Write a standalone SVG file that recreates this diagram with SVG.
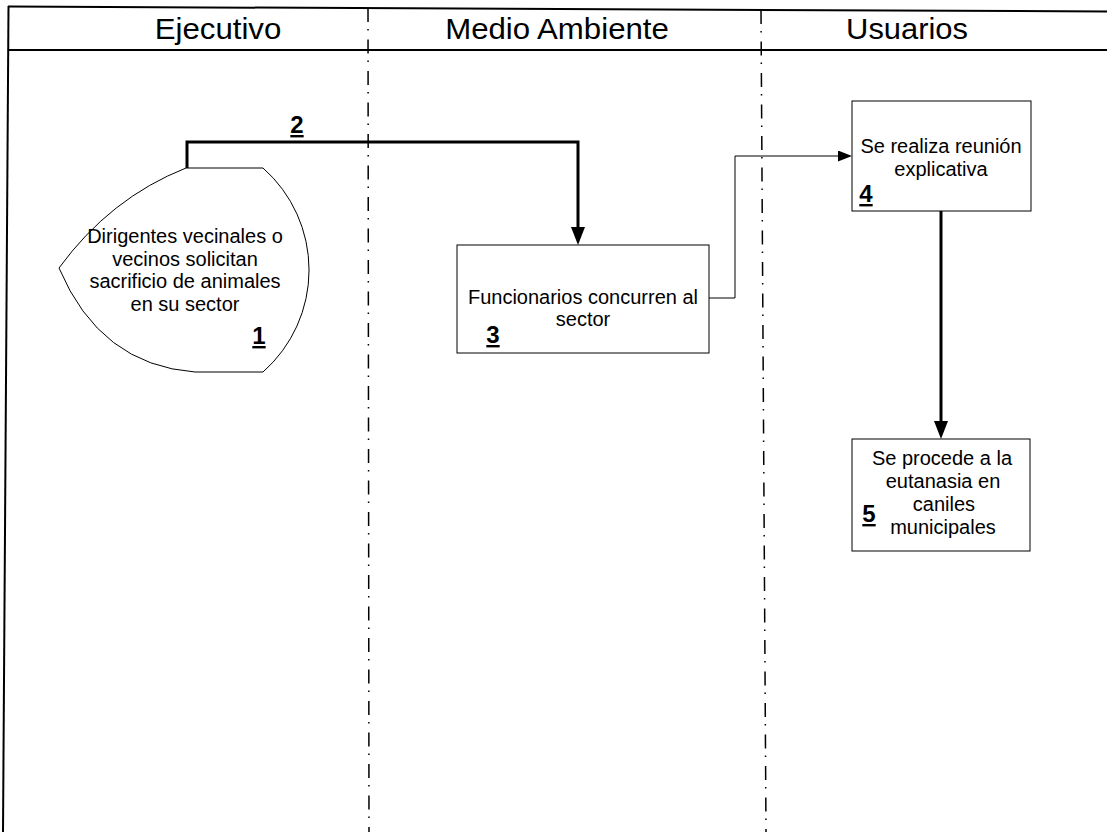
<svg xmlns="http://www.w3.org/2000/svg" width="1107" height="832" viewBox="0 0 1107 832">
  <style>
    text { font-family: "Liberation Sans", Arial, sans-serif; fill: #000; text-anchor: middle; }
    .hd { font-size: 30px; }
    .tx { font-size: 20px; }
    .num { font-size: 24px; font-weight: bold; text-decoration: underline; }
    .frame { stroke: #000; stroke-width: 2; fill: none; }
    .lane { stroke: #000; stroke-width: 1.5; fill: none; stroke-dasharray: 14 7 1.5 9; }
    .box { fill: #fff; stroke: #000; stroke-width: 1; }
    .thick { fill: none; stroke: #000; stroke-width: 3; }
    .thin { fill: none; stroke: #000; stroke-width: 1; }
  </style>
  <defs>
    <marker id="headBig" markerUnits="userSpaceOnUse" markerWidth="18" markerHeight="14" refX="0" refY="7" orient="auto">
      <path d="M0,0 L18,7 L0,14 z" fill="#000"/>
    </marker>
    <marker id="headSmall" markerUnits="userSpaceOnUse" markerWidth="14" markerHeight="11" refX="0" refY="5.5" orient="auto">
      <path d="M0,0 L14,5.5 L0,11 z" fill="#000"/>
    </marker>
  </defs>

  <rect x="0" y="0" width="1107" height="832" fill="#fff"/>

  <!-- swimlane frame and lane separators -->
  <g id="lanes">
    <line class="frame" x1="8" y1="6.5" x2="1107" y2="11.5"/>
    <line class="frame" x1="8" y1="50" x2="1107" y2="50"/>
    <line class="frame" x1="8.5" y1="6" x2="3" y2="832"/>
    <line class="lane" x1="368" y1="8" x2="369" y2="832"/>
    <line class="lane" x1="761" y1="10" x2="766" y2="832"/>
    <text class="hd" transform="matrix(1.04 0 0 1 218 39)">Ejecutivo</text>
    <text class="hd" transform="matrix(1.04 0 0 1 557 39)">Medio Ambiente</text>
    <text class="hd" transform="matrix(1.03 0 0 1 907 39)">Usuarios</text>
  </g>

  <!-- connectors -->
  <g id="connectors">
    <path class="thick" d="M187 168 V142 H578 V227" marker-end="url(#headBig)"/>
    <path class="thin" d="M709 298 H735 V156 H838" marker-end="url(#headSmall)"/>
    <path class="thick" d="M941 211 V421" marker-end="url(#headBig)"/>
    <text class="num" x="297" y="133">2</text>
  </g>

  <!-- 1: display-shaped start node -->
  <g id="node1">
    <path class="box" d="M186 168 L263 168 A136 136 0 0 1 263 372 L195 372 Q100 365 59 268 Q110 198 186 168 Z"/>
    <text class="tx" x="185" y="243">Dirigentes vecinales o</text>
    <text class="tx" x="185" y="265.5">vecinos solicitan</text>
    <text class="tx" x="185" y="288">sacrificio de animales</text>
    <text class="tx" x="185" y="310.5">en su sector</text>
    <text class="num" x="259" y="344">1</text>
  </g>

  <!-- 3 -->
  <g id="node3">
    <rect class="box" x="457" y="245" width="252" height="108"/>
    <text class="tx" x="583" y="304">Funcionarios concurren al</text>
    <text class="tx" x="583" y="326">sector</text>
    <text class="num" x="493" y="343">3</text>
  </g>

  <!-- 4 -->
  <g id="node4">
    <rect class="box" x="852" y="101" width="179" height="110"/>
    <text class="tx" x="941" y="153">Se realiza reunión</text>
    <text class="tx" x="941" y="176">explicativa</text>
    <text class="num" x="866" y="202">4</text>
  </g>

  <!-- 5 -->
  <g id="node5">
    <rect class="box" x="852" y="439" width="178" height="112"/>
    <text class="tx" x="942" y="465">Se procede a la</text>
    <text class="tx" x="943" y="488">eutanasia en</text>
    <text class="tx" x="944" y="511">caniles</text>
    <text class="tx" x="943" y="534">municipales</text>
    <text class="num" x="869" y="522">5</text>
  </g>
</svg>
